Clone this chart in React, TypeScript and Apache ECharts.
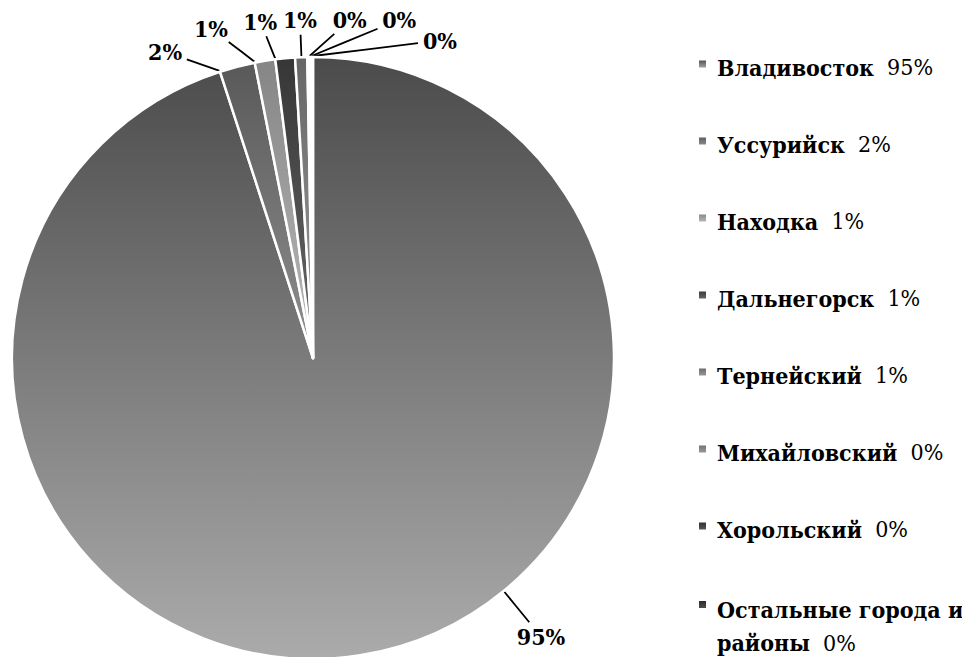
import React, { useEffect, useRef } from 'react';
import * as echarts from 'echarts';

// ---- data ----
const cities = [
  'Владивосток',
  'Уссурийск',
  'Находка',
  'Дальнегорск',
  'Тернейский',
  'Михайловский',
  'Хорольский',
  'Остальные города и районы',
];
const shares = [95.0, 1.9, 1.1, 1.05, 0.65, 0.12, 0.1, 0.08];

// ---- layout / style ----
const CX = 313;
const CY = 358;
const R = 301;
// label centre in polar coords around the pie centre: [deg clockwise from 12 o'clock, radius]
const labelPolar: number[][] = [
  [140.7, 360],
  [-25.8, 340],
  [-17.2, 345],
  [-8.9, 341],
  [-2.2, 339],
  [6.2, 340],
  [14.3, 349],
  [21.8, 342],
];
const sliceColors: string[][] = [
  ['#4b4b4b', '#ababab'],
  ['#595959', '#8f8f8f'],
  ['#858585', '#bababa'],
  ['#363636', '#6a6a6a'],
  ['#666666', '#9e9e9e'],
  ['#6e6e6e', '#9e9e9e'],
  ['#2c2c2c', '#5c5c5c'],
  ['#262626', '#535353'],
];
const SERIF = 'DejaVu Serif Condensed, DejaVu Serif';

function wrapWords(s: string, max: number): string[] {
  const words = s.split(' ');
  const lines: string[] = [];
  let cur = '';
  words.forEach((w) => {
    const next = cur ? cur + ' ' + w : w;
    if (next.length > max && cur) {
      lines.push(cur);
      cur = w;
    } else cur = next;
  });
  if (cur) lines.push(cur);
  return lines;
}

export default function App() {
  const ref = useRef<HTMLDivElement>(null);
  useEffect(() => {
    document.body.style.margin = '0';
    const chart = echarts.init(ref.current!, null, { renderer: 'svg' });
    const total = shares.reduce((a, b) => a + b, 0);
    const pct = (v: number) => Math.round((v / total) * 100);
    const pctByName: Record<string, number> = {};
    cities.forEach((c, i) => (pctByName[c] = pct(shares[i])));

    const spans: number[][] = [];
    let acc = 0;
    shares.forEach((v) => {
      const s = (acc / total) * 360;
      acc += v;
      spans.push([s, (acc / total) * 360]);
    });
    const norm = (a: number) => ((a % 360) + 360) % 360;
    const circDist = (a: number, b: number) => {
      const d = Math.abs(norm(a) - norm(b));
      return Math.min(d, 360 - d);
    };
    const clampAngle = (a: number, s: number, e: number) => {
      const an = norm(a);
      if (an >= s && an <= e) return an;
      return circDist(an, s) < circDist(an, e) ? s : e;
    };
    const polar = (deg: number, r: number) => {
      const t = (deg * Math.PI) / 180;
      return [CX + r * Math.sin(t), CY - r * Math.cos(t)];
    };

    const legendFormatter = (name: string) => {
      const lines = wrapWords(name, 18);
      const last = lines.pop() as string;
      const head = lines.map((l) => `{n|${l}}\n`).join('');
      return `${head}{n|${last}}  {p|${pctByName[name]}%}`;
    };
    const rich = (lh: number) => ({
      n: { fontFamily: SERIF, fontSize: 23, fontWeight: 'bold', color: '#000', lineHeight: lh },
      p: { fontFamily: SERIF, fontSize: 23, fontWeight: 'normal', color: '#000', lineHeight: lh },
    });

    chart.setOption({
      animation: false,
      backgroundColor: '#fff',
      legend: [
        {
          orient: 'vertical',
          left: 697,
          top: 55.5,
          padding: 0,
          itemGap: 54,
          itemWidth: 9,
          itemHeight: 9,
          icon: 'rect',
          selectedMode: false,
          data: cities.slice(0, 7),
          formatter: legendFormatter,
          textStyle: {
            fontFamily: SERIF,
            fontSize: 23,
            color: '#000',
            padding: [6, 0, 0, 5],
            rich: rich(30),
          },
        },
        {
          orient: 'vertical',
          left: 697,
          top: 598,
          padding: 0,
          itemWidth: 9,
          itemHeight: 9,
          icon: 'rect',
          selectedMode: false,
          data: cities.slice(7),
          formatter: legendFormatter,
          textStyle: {
            fontFamily: SERIF,
            fontSize: 23,
            color: '#000',
            padding: [43, 0, 0, 5],
            rich: rich(33),
          },
        },
      ],
      series: [
        {
          type: 'pie',
          center: [CX, CY],
          radius: R,
          startAngle: 90,
          clockwise: true,
          avoidLabelOverlap: false,
          itemStyle: { borderColor: '#fff', borderWidth: 2.5 },
          label: {
            show: true,
            position: 'outside',
            fontFamily: SERIF,
            fontSize: 23,
            fontWeight: 'bold',
            color: '#000',
            formatter: (p: any) => `${pct(p.value)}%`,
          },
          labelLine: {
            show: true,
            length: 10,
            length2: 10,
            lineStyle: { color: '#000', width: 1.8 },
          },
          labelLayout: (p: any) => {
            const i = p.dataIndex;
            const [deg, r] = labelPolar[i];
            const [lx, ly] = polar(deg, r);
            const [s, e] = spans[i];
            const aDeg = clampAngle(deg, s, e);
            const [ax, ay] = polar(aDeg, R + 1);
            const dx = ax - lx;
            const dy = ay - ly;
            const len = Math.hypot(dx, dy) || 1;
            const ux = dx / len;
            const uy = dy / len;
            const hw = (p.labelRect?.width ?? 36) / 2;
            const hh = (p.labelRect?.height ?? 24) / 2 - 1;
            const t =
              Math.min(
                Math.abs(ux) > 1e-6 ? hw / Math.abs(ux) : 1e9,
                Math.abs(uy) > 1e-6 ? hh / Math.abs(uy) : 1e9
              ) + 5;
            const ex = lx + ux * t;
            const ey = ly + uy * t;
            return {
              x: lx,
              y: ly,
              align: 'center',
              verticalAlign: 'middle',
              labelLinePoints: [
                [ax, ay],
                [(ax + ex) / 2, (ay + ey) / 2],
                [ex, ey],
              ],
            };
          },
          data: cities.map((name, i) => ({
            name,
            value: shares[i],
            itemStyle: {
              color: new echarts.graphic.LinearGradient(0, 0, 0, 1, [
                { offset: 0, color: sliceColors[i][0] },
                { offset: 1, color: sliceColors[i][1] },
              ]),
            },
          })),
        },
      ],
    });
    return () => chart.dispose();
  }, []);
  return <div ref={ref} style={{ width: 962, height: 657 }} />;
}
